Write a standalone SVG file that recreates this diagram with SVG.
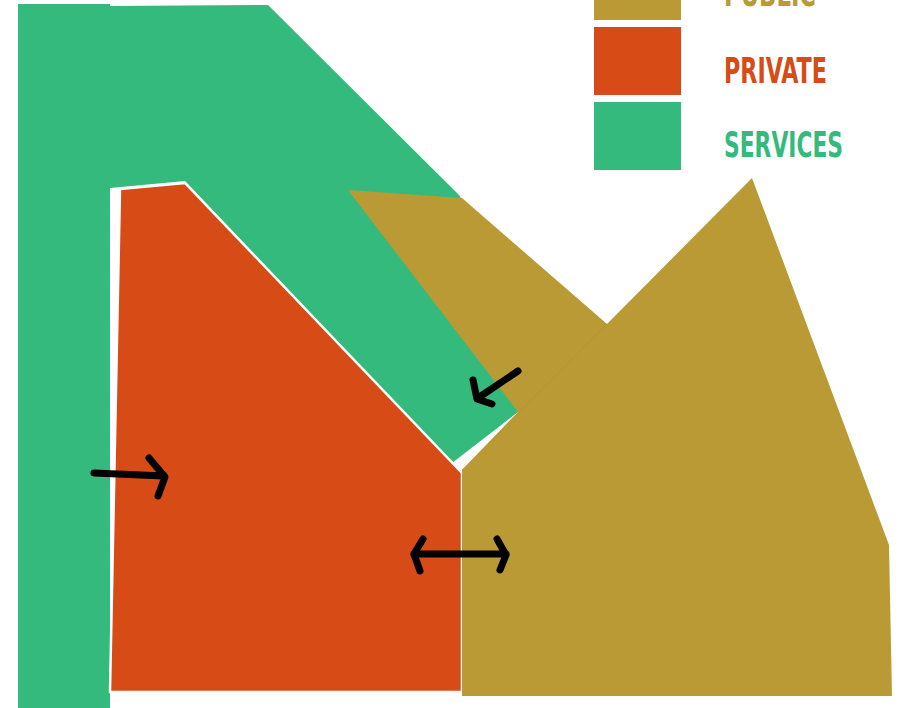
<svg xmlns="http://www.w3.org/2000/svg" width="904" height="708" viewBox="0 0 904 708">
<style>
.services{fill:#35BA7D}
.private{fill:#D64B16}
.public{fill:#B99A34}
.arrow{fill:none;stroke:#000;stroke-width:7;stroke-linecap:round;stroke-linejoin:round}
.lbl{font-family:"DejaVu Sans Condensed","DejaVu Sans",sans-serif;font-weight:bold;font-size:36px}
</style>
<rect width="904" height="708" fill="#fff"/>
<g id="services-zone">
<polygon class="services" points="18,4 110,4 110,6 268,5 460,196 518,412 452,463 185,181 110,188 110,708 18,708"/>
</g>
<g id="private-zone">
<polygon class="private" points="120,189 185,183 462,473 462,692 110,692" stroke="#fff" stroke-width="2.5" stroke-linejoin="miter"/>
</g>
<g id="public-zone">
<polygon class="public" points="348,190 462,198 607,324 752,178 889,545 892,696 462,696 462,470 518,412"/>
<line x1="462" y1="470" x2="607" y2="324" stroke="#b09230" stroke-width="1" opacity="0.4"/>
</g>
<g id="legend">
<g id="legend-public">
<rect class="public" x="594" y="-10" width="87" height="30"/>
<text class="lbl" x="724" y="6" fill="#B99A34" textLength="92" lengthAdjust="spacingAndGlyphs">PUBLIC</text>
</g>
<g id="legend-private">
<rect class="private" x="594" y="27" width="87" height="68"/>
<text class="lbl" x="724" y="83" fill="#D64B16" textLength="103" lengthAdjust="spacingAndGlyphs">PRIVATE</text>
</g>
<g id="legend-services">
<rect class="services" x="594" y="102" width="87" height="68"/>
<text class="lbl" x="724" y="157" fill="#35BA7D" textLength="119" lengthAdjust="spacingAndGlyphs">SERVICES</text>
</g>
</g>
<g id="connectors">
<g id="arrow-services-private">
<line class="arrow" x1="94" y1="473" x2="164" y2="476"/>
<polyline class="arrow" points="149,458 165,477 158,496"/>
</g>
<g id="arrow-private-public">
<line class="arrow" x1="414" y1="554" x2="506" y2="554"/>
<polyline class="arrow" points="423,539 414,554 420,571"/>
<polyline class="arrow" points="497,539 506,555 500,570"/>
</g>
<g id="arrow-public-services">
<line class="arrow" x1="518" y1="371" x2="478" y2="398"/>
<polyline class="arrow" points="473,380 477,399 492,404"/>
</g>
</g>
</svg>
